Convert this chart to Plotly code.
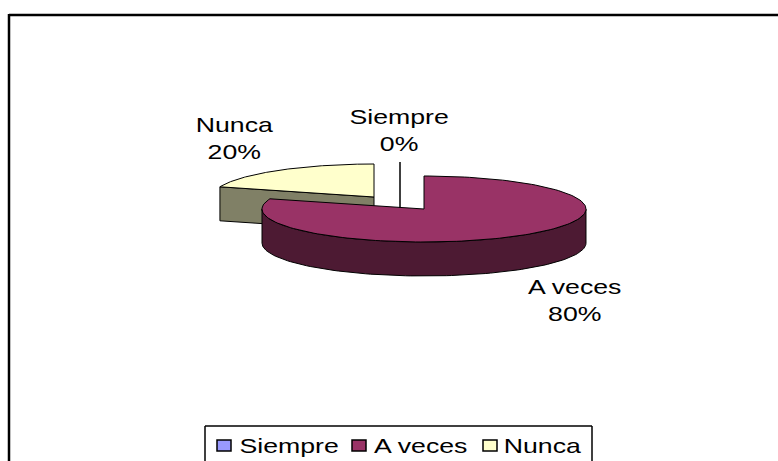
import numpy as np
import plotly.graph_objects as go

categories = ["Siempre", "A veces", "Nunca"]
values = [0, 80, 20]
face_colors = ["#9999FF", "#993366", "#FFFFCC"]
side_colors = ["#4D4D80", "#4D1A33", "#808066"]

FONT = "Liberation Sans"
FS = 21
STRETCH = 1.27
RX, RY, DEPTH = 162, 33, 34
centers = {"A veces": (424, 209), "Nunca": (374, 197)}
LINE = dict(color="#000000", width=1)

total = sum(values)
fig = go.Figure()


def poly(xs, ys, fill):
    fig.add_trace(go.Scatter(x=xs, y=ys, mode="lines", fill="toself", fillcolor=fill,
                             line=LINE, hoverinfo="skip", showlegend=False))


def wedge(name):
    i = categories.index(name)
    cx, cy = centers[name]
    start = sum(values[:i]) / total * 2 * np.pi
    end = sum(values[:i + 1]) / total * 2 * np.pi
    t = np.linspace(start, end, 160)
    ex = cx + RX * np.sin(t)
    ey = cy - RY * np.cos(t)
    if name == "Nunca":
        tipx, tipy = cx + RX * np.sin(start), cy - RY * np.cos(start)
        poly([tipx, cx, cx, tipx, tipx], [tipy, cy, cy + DEPTH, tipy + DEPTH, tipy], side_colors[i])
    front = (t > np.pi / 2) & (t < 3 * np.pi / 2)
    if front.any():
        fx, fy = ex[front], ey[front]
        poly(np.r_[fx, fx[::-1], fx[0]], np.r_[fy, fy[::-1] + DEPTH, fy[0]], side_colors[i])
    poly(np.r_[cx, ex, cx], np.r_[cy, ey, cy], face_colors[i])


wedge("Nunca")
wedge("A veces")

FRAME = dict(color="#000", width=2.5)
BOX = dict(color="#000", width=1.5)
shapes = [
    dict(type="line", x0=9, x1=778, y0=15, y1=15, line=FRAME),
    dict(type="line", x0=9, x1=9, y0=14, y1=461, line=FRAME),
    dict(type="line", x0=400, x1=400, y0=162, y1=208, line=dict(color="#000", width=1.5)),
    dict(type="line", x0=205, x1=592, y0=426, y1=426, line=BOX),
    dict(type="line", x0=205, x1=205, y0=426, y1=461, line=BOX),
    dict(type="line", x0=592, x1=592, y0=426, y1=461, line=BOX),
]
swatch_x = [216, 351, 482]
label_x = [289, 421, 542]
for col, sx in zip(face_colors, swatch_x):
    shapes.append(dict(type="rect", x0=sx + 1, x1=sx + 15, y0=440, y1=451, fillcolor=col, line=BOX))

annotations = []
for name, x, y in [("Nunca", 234, 138), ("Siempre", 399, 130), ("A veces", 575, 300)]:
    pct = round(values[categories.index(name)] / total * 100)
    annotations.append(dict(x=x, y=y, text=f"{name}<br>{pct}%", showarrow=False, xanchor="center",
                            yanchor="middle", font=dict(family=FONT, size=FS, color="#000")))
for cat, lx in zip(categories, label_x):
    annotations.append(dict(x=lx, y=445, text=cat, showarrow=False, xanchor="center", yanchor="middle",
                            font=dict(family=FONT, size=FS, color="#000")))

fig.update_layout(
    width=778, height=461, margin=dict(l=0, r=0, t=0, b=0),
    paper_bgcolor="#FFFFFF", plot_bgcolor="#FFFFFF", showlegend=False,
    xaxis=dict(range=[0, 778], visible=False, fixedrange=True),
    yaxis=dict(range=[461, 0], visible=False, fixedrange=True),
    shapes=shapes, annotations=annotations,
)
post = """
document.body.style.margin = '0';
document.querySelectorAll('.annotation-text').forEach(function (t) {
  var b = t.getBBox(), c = b.x + b.width / 2;
  t.setAttribute('transform', 'translate(' + c + ',0) scale(%s,1) translate(' + (-c) + ',0)');
});
""" % STRETCH
fig.write_html("out.html", config=dict(displayModeBar=False), post_script=post)
